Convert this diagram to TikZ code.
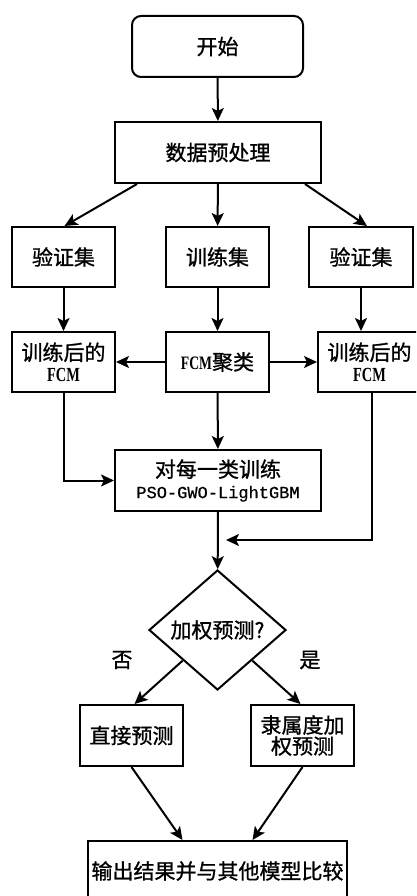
\documentclass[tikz,border=0pt]{standalone}
\usepackage{fontspec}
\newfontfamily\cjk[FakeBold=1]{Noto Sans CJK SC}
\newfontfamily\fcmfont[FakeStretch=0.72]{Liberation Serif}
\newfontfamily\monofont[FakeBold=0.5]{Liberation Mono}
\usetikzlibrary{shapes.geometric,arrows.meta,calc}
\begin{document}
\begin{tikzpicture}[x=1pt,y=-1pt,
  box/.style={draw, line width=2pt, minimum width=103pt, minimum height=60pt, inner sep=0pt, align=center, font=\cjk\fontsize{21}{21}\selectfont},
  arr/.style={line width=2pt, -{Stealth[length=13pt,width=12pt,inset=3pt]}},
  lbl/.style={font=\cjk\fontsize{21}{21}\selectfont, inner sep=2pt}]
\useasboundingbox (0,0) rectangle (416,896);
\clip (0,0) rectangle (416,896);
\fill[white] (0,0) rectangle (416,896);

\node[box, rounded corners=9pt, minimum width=171pt, minimum height=61pt] (start) at (217.5,46.5) {开始};
\node[box, minimum width=206pt, minimum height=61pt] (pre) at (218,152.5) {数据预处理};
\node[box] (v1) at (63.5,257) {验证集};
\node[box] (tr1) at (217.5,257) {训练集};
\node[box, minimum width=104pt] (v2) at (361,257) {验证集};
\node[box] (f1) at (63.5,362) {训练后的\\{\fcmfont\bfseries\fontsize{20}{21}\selectfont FCM}};
\node[box] (fc) at (217.5,362) {{\fcmfont\bfseries\fontsize{19}{21}\selectfont FCM}聚类};
\node[box] (f2) at (369.5,362) {训练后的\\{\fcmfont\bfseries\fontsize{20}{21}\selectfont FCM}};
\node[box, minimum width=206pt, minimum height=61pt] (tr) at (218,480.5) {对每一类训练\\{\monofont\fontsize{17}{21}\selectfont PSO-GWO-LightGBM}};
\node[diamond, draw, line width=2pt, minimum width=137pt, minimum height=120pt, inner sep=0pt, font=\cjk\fontsize{21}{21}\selectfont] (d) at (217.5,630) {加权预测?};
\node[lbl] (no) at (122,660) {否};
\node[lbl] (yes) at (310,660) {是};
\node[box, minimum height=61pt] (p1) at (131.5,735.5) {直接预测};
\node[box, minimum height=61pt] (p2) at (302.5,735.5) {隶属度加\\权预测};
\node[box, minimum width=259pt] (out) at (217.5,871) {输出结果并与其他模型比较};

\draw[arr] (start) -- (pre);
\draw[arr] ([xshift=-81pt]pre.south) -- ([xshift=1pt]v1.north);
\draw[arr] (pre) -- (tr1);
\draw[arr] ([xshift=87pt]pre.south) -- ([xshift=6pt]v2.north);
\draw[arr] (v1) -- (f1);
\draw[arr] (tr1) -- (fc);
\draw[arr] (v2.south) -- (v2.south |- f2.north);
\draw[arr] (fc) -- (f1);
\draw[arr] (fc) -- (f2);
\draw[arr] (fc) -- (tr);
\draw[arr] (f1.south) |- (tr.west);
\coordinate (j) at (226,540);
\draw[arr] ([xshift=2pt]f2.south) |- (j);
\draw[arr] (tr) -- (d);
\draw[arr] ($(d.west)!0.5!(d.south)$) -- ([xshift=3pt]p1.north);
\draw[arr] ($(d.east)!0.5!(d.south)$) -- ([xshift=-2pt]p2.north);
\draw[arr] (p1.south) -- ([xshift=-35pt]out.north);
\draw[arr] (p2.south) -- ([xshift=35pt]out.north);
\end{tikzpicture}
\end{document}
